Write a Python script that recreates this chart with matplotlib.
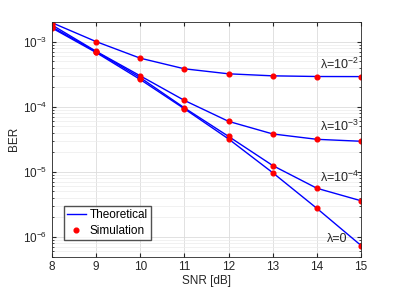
import matplotlib.pyplot as plt

snr = [8, 9, 10, 11, 12, 13, 14, 15]

# BER values, one list per lambda
ber_lam_1e2 = [1.95e-3, 1.0e-3, 5.56e-4, 3.82e-4, 3.2e-4, 2.98e-4, 2.91e-4, 2.9e-4]
ber_lam_1e3 = [1.8e-3, 7.1e-4, 2.98e-4, 1.25e-4, 5.96e-5, 3.82e-5, 3.16e-5, 2.95e-5]
ber_lam_1e4 = [1.68e-3, 7.0e-4, 2.8e-4, 9.6e-5, 3.5e-5, 1.25e-5, 5.6e-6, 3.6e-6]
ber_lam_0 = [1.62e-3, 6.8e-4, 2.62e-4, 9.3e-5, 3.2e-5, 9.7e-6, 2.75e-6, 7.4e-7]

curves = [ber_lam_1e2, ber_lam_1e3, ber_lam_1e4, ber_lam_0]
labels = ["λ=10$^{-2}$", "λ=10$^{-3}$", "λ=10$^{-4}$", "λ=0"]
label_y = [3.4e-4, 3.8e-5, 6.2e-6, 7.6e-7]
label_x = [14.95, 14.95, 14.95, 14.7]

plt.rcParams["font.family"] = "Liberation Sans"
plt.rcParams["mathtext.fontset"] = "custom"
plt.rcParams["mathtext.rm"] = "Liberation Sans"

fig = plt.figure(figsize=(3.99, 2.89), dpi=100)
ax = fig.add_axes([0.130, 0.112, 0.775, 0.812])

for i, ber in enumerate(curves):
    ax.semilogy(snr, ber, color="blue", linewidth=1.0,
                label="Theoretical" if i == 0 else None)
    ax.semilogy(snr, ber, linestyle="none", marker="o", markersize=3.4,
                color="red", label="Simulation" if i == 0 else None)

for txt, x, y in zip(labels, label_x, label_y):
    ax.text(x, y, txt, ha="right", va="bottom", fontsize=9, color="#262626")

ax.set_xlim(8, 15)
ax.set_ylim(5e-7, 2e-3)
ax.set_xticks(snr)
ax.set_xlabel("SNR [dB]", fontsize=8.5, color="#262626", labelpad=1)
ax.set_ylabel("BER", fontsize=8.5, color="#262626", labelpad=2)
ax.grid(True, which="major", color="#dcdcdc", linewidth=0.6)
ax.grid(True, which="minor", color="#ececec", linewidth=0.5)
ax.tick_params(which="both", direction="in", top=True, right=True,
               labelsize=8.5, colors="#262626")
ax.tick_params(which="major", length=3)
ax.tick_params(which="minor", length=1.5)
for s in ax.spines.values():
    s.set_color("#262626")
    s.set_linewidth(0.6)

ax.legend(loc="lower left", bbox_to_anchor=(0.03, 0.06), fontsize=8.5,
          frameon=True, fancybox=False, edgecolor="#262626",
          handlelength=1.6, handletextpad=0.3, borderpad=0.3,
          labelspacing=0.3, borderaxespad=0.2)

fig.savefig("out.png", dpi=100)
